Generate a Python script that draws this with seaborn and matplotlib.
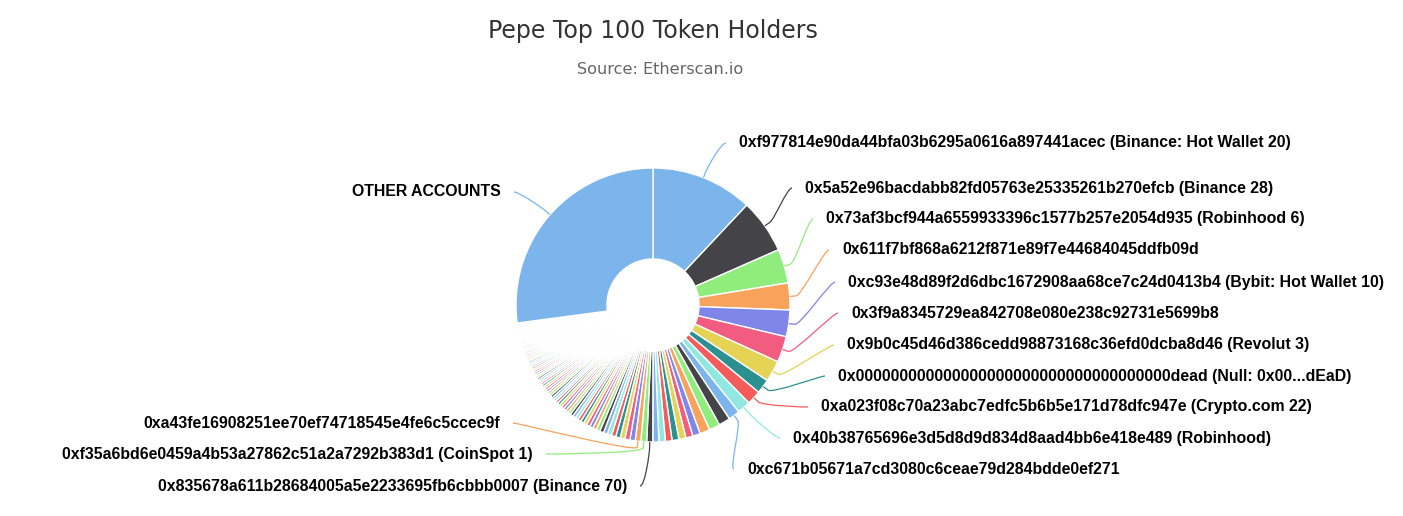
import numpy as np
import matplotlib
matplotlib.use("Agg")
import matplotlib.pyplot as plt
from matplotlib.path import Path
from matplotlib.patches import PathPatch
import seaborn as sns

#------------------------------------------------------------------------------------------------------------------------
# DATA  (share of supply held, %)
top_holders_pct = [
    12.00, 6.40, 4.01, 3.17, 3.15, 3.06, 2.50, 1.70, 1.68, 1.56,
    1.36, 1.35, 1.28, 1.19, 0.89, 0.83, 0.83, 0.81, 0.78, 0.75,
    0.72, 0.71, 0.69, 0.66, 0.62, 0.59, 0.56, 0.54, 0.52, 0.50,
    0.48, 0.46, 0.45, 0.43, 0.42, 0.41, 0.40, 0.39, 0.38, 0.37,
    0.36, 0.35, 0.34, 0.34, 0.33, 0.32, 0.32, 0.31, 0.30, 0.30,
    0.29, 0.29, 0.28, 0.28, 0.27, 0.27, 0.26, 0.26, 0.25, 0.25,
    0.24, 0.24, 0.23, 0.23, 0.23, 0.22, 0.22, 0.22, 0.21, 0.21,
    0.21, 0.20, 0.20, 0.20, 0.19, 0.19, 0.19, 0.19, 0.18, 0.18,
    0.18, 0.18, 0.17, 0.17, 0.17, 0.17, 0.16, 0.16, 0.16, 0.16,
    0.16, 0.15, 0.15, 0.15, 0.15, 0.14, 0.14, 0.14, 0.14, 0.14,
]
other_accounts_pct = 27.1

# holders that get a data label (index into top_holders_pct)
right_labels = {
    0: "0xf977814e90da44bfa03b6295a0616a897441acec (Binance: Hot Wallet 20)",
    1: "0x5a52e96bacdabb82fd05763e25335261b270efcb (Binance 28)",
    2: "0x73af3bcf944a6559933396c1577b257e2054d935 (Robinhood 6)",
    3: "0x611f7bf868a6212f871e89f7e44684045ddfb09d",
    4: "0xc93e48d89f2d6dbc1672908aa68ce7c24d0413b4 (Bybit: Hot Wallet 10)",
    5: "0x3f9a8345729ea842708e080e238c92731e5699b8",
    6: "0x9b0c45d46d386cedd98873168c36efd0dcba8d46 (Revolut 3)",
    7: "0x000000000000000000000000000000000000dead (Null: 0x00...dEaD)",
    8: "0xa023f08c70a23abc7edfc5b6b5e171d78dfc947e (Crypto.com 22)",
    9: "0x40b38765696e3d5d8d9d834d8aad4bb6e418e489 (Robinhood)",
    10: "0xc671b05671a7cd3080c6ceae79d284bdde0ef271",
}
left_labels = {
    21: "0x835678a611b28684005a5e2233695fb6cbbb0007 (Binance 70)",
    22: "0xf35a6bd6e0459a4b53a27862c51a2a7292b383d1 (CoinSpot 1)",
    23: "0xa43fe16908251ee70ef74718545e4fe6c5ccec9f",
}

#------------------------------------------------------------------------------------------------------------------------
# LAYOUT (pixels from top-left of the image)
W, H = 1403, 516
cx, cy = 653, 305
R, R_IN = 137, 46
right_label_xy = {0: (739, 143), 1: (805, 188), 2: (826, 219), 3: (842, 250), 4: (848, 282),
                  5: (851, 313), 6: (847, 345), 7: (838, 376), 8: (821, 407), 9: (793, 438),
                  10: (747, 469)}
left_label_xy = {21: (627, 486), 22: (533, 454), 23: (500, 423)}
other_label_xy = (501, 192)

hc_colors = ["#7cb5ec", "#434348", "#90ed7d", "#f7a35c", "#8085e9",
             "#f15c80", "#e4d354", "#2b908f", "#f45b5b", "#91e8e1"]

sns.set_theme(style="white")
plt.rcParams['font.family'] = ['Liberation Sans', 'DejaVu Sans']
palette = sns.color_palette(hc_colors)

values = top_holders_pct + [other_accounts_pct]
colors = [palette[i % 10] for i in range(len(values))]

fig = plt.figure(figsize=(W / 100, H / 100), dpi=100)
ax = fig.add_axes([0, 0, 1, 1])
wedges, _ = ax.pie(values, colors=colors, startangle=90, counterclock=False,
                   center=(cx, H - cy), radius=R,
                   wedgeprops=dict(width=R - R_IN, edgecolor="white", linewidth=1.0))
ax.set_xlim(0, W)
ax.set_ylim(0, H)
ax.set_aspect("equal")
ax.axis("off")


def connector(wedge, lx, ly, side, color):
    # highcharts style soft connector: label -> curve -> break point -> slice edge
    ang = np.deg2rad((wedge.theta1 + wedge.theta2) / 2)
    ux, uy = np.cos(ang), np.sin(ang)
    x0, y0 = wedge.center
    touch = (x0 + ux * R, y0 + uy * R)
    brk = (x0 + ux * (R + 6), y0 + uy * (R + 6))
    ly = H - ly
    c1 = (lx - 5 if side == "right" else lx + 5, ly)
    c2 = (2 * brk[0] - touch[0], 2 * brk[1] - touch[1])
    verts = [(lx, ly), c1, c2, brk, touch]
    codes = [Path.MOVETO, Path.CURVE4, Path.CURVE4, Path.CURVE4, Path.LINETO]
    ax.add_patch(PathPatch(Path(verts, codes), fill=False, edgecolor=color, lw=0.9))


label_kw = dict(fontsize=11.4, fontweight="bold", color="black", va="center")

for i, txt in right_labels.items():
    x, y = right_label_xy[i]
    ax.text(x, H - y, txt, ha="left", **label_kw)
    connector(wedges[i], x - 13, y, "right", colors[i])

for i, txt in left_labels.items():
    x, y = left_label_xy[i]
    ax.text(x, H - y, txt, ha="right", **label_kw)
    connector(wedges[i], x + 13, y, "left", colors[i])

x, y = other_label_xy
ax.text(x, H - y, "OTHER ACCOUNTS", ha="right", **label_kw)
connector(wedges[-1], x + 13, y, "left", colors[-1])

ax.text(653, H - 31, "Pepe Top 100 Token Holders", ha="center", va="center",
        fontsize=17, color="#333333", family="DejaVu Sans")
ax.text(660, H - 70, "Source: Etherscan.io", ha="center", va="center",
        fontsize=11.6, color="#666666", family="DejaVu Sans")

fig.savefig("out.png", dpi=100, facecolor="white")
